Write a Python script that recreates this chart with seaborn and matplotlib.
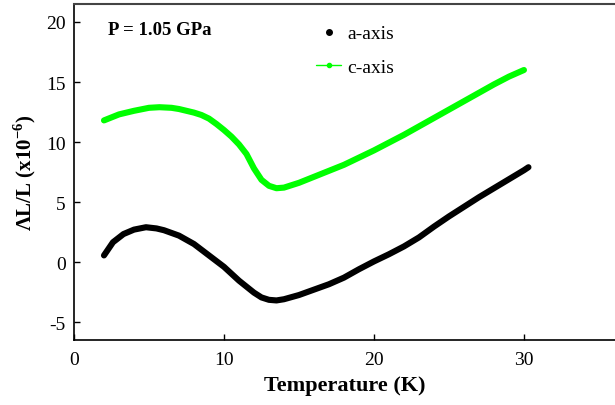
import matplotlib
matplotlib.use("Agg")
import matplotlib.pyplot as plt
import pandas as pd
import seaborn as sns
from matplotlib.lines import Line2D

# a-axis data
temp_a = [2.0, 2.6, 3.3, 4.0, 4.8, 5.5, 6.0, 7.0, 8.0, 9.0, 10.0, 11.0, 12.0,
          12.5, 13.0, 13.5, 14.0, 15.0, 16.0, 17.0, 18.0, 19.0, 20.0, 21.0,
          22.0, 23.0, 24.0, 25.0, 26.0, 27.0, 28.0, 29.0, 30.0, 30.3]
dl_a = [0.55, 1.65, 2.33, 2.7, 2.9, 2.8, 2.65, 2.2, 1.5, 0.55, -0.4, -1.55, -2.55,
        -2.95, -3.15, -3.2, -3.1, -2.75, -2.3, -1.85, -1.3, -0.6, 0.05, 0.65,
        1.3, 2.05, 2.95, 3.8, 4.6, 5.4, 6.15, 6.9, 7.65, 7.9]

# c-axis data
temp_c = [2.0, 3.0, 4.0, 5.0, 5.7, 6.5, 7.0, 8.0, 8.5, 9.0, 9.5, 10.0, 10.5, 11.0,
          11.5, 12.0, 12.5, 13.0, 13.5, 14.0, 15.0, 16.0, 17.0, 18.0, 19.0, 20.0,
          21.0, 22.0, 23.0, 24.0, 25.0, 26.0, 27.0, 28.0, 29.0, 30.0]
dl_c = [11.8, 12.3, 12.6, 12.85, 12.9, 12.85, 12.75, 12.45, 12.25, 11.95, 11.5,
        11.0, 10.45, 9.8, 9.0, 7.8, 6.85, 6.35, 6.15, 6.2, 6.6, 7.1, 7.6, 8.1,
        8.7, 9.3, 9.95, 10.6, 11.3, 12.0, 12.7, 13.4, 14.1, 14.8, 15.45, 16.0]

xticks = [0, 10, 20, 30]
yticks = [-5, 0, 5, 10, 15, 20]

sns.set_theme(style="ticks")
plt.rcParams["font.family"] = ["Liberation Serif", "DejaVu Serif"]
plt.rcParams["axes.unicode_minus"] = False
plt.rcParams["mathtext.fontset"] = "custom"
plt.rcParams["mathtext.rm"] = "Liberation Serif"
plt.rcParams["mathtext.bf"] = "Liberation Serif:bold"
plt.rcParams["text.color"] = "black"
plt.rcParams["axes.labelcolor"] = "black"

fig = plt.figure(figsize=(6.15, 4.06), dpi=100)
ax = fig.add_axes([0.1203, 0.160, 0.8797, 0.8277])

df_a = pd.DataFrame({"T": temp_a, "dL": dl_a})
df_c = pd.DataFrame({"T": temp_c, "dL": dl_c})

sns.lineplot(data=df_a, x="T", y="dL", ax=ax, color="black", linewidth=4.4,
             solid_capstyle="round", solid_joinstyle="round", sort=False)
sns.lineplot(data=df_c, x="T", y="dL", ax=ax, color="#00ff00", linewidth=4.4,
             solid_capstyle="round", solid_joinstyle="round", sort=False)

ax.set_xlim(0, 36.07)
ax.set_ylim(-6.5, 21.5)
ax.set_xticks(xticks)
ax.set_yticks(yticks)
ax.tick_params(direction="in", length=4, width=1, labelsize=14, colors="black")
ax.tick_params(axis="x", pad=8)
ax.tick_params(axis="y", pad=6)
for side in ["left", "bottom"]:
    ax.spines[side].set_linewidth(1.2)
    ax.spines[side].set_color("black")
ax.spines["top"].set_linewidth(1.5)
ax.spines["top"].set_color("#444444")
ax.spines["right"].set_visible(False)

ax.set_xlabel("Temperature (K)", fontsize=16, fontweight="bold", labelpad=5)
ax.set_ylabel(r"ΛL/L (x10$^{\mathbf{-6}}$)", fontsize=15, fontweight="bold",
              labelpad=6)

ax.text(0.062, 0.925, "P = 1.05 GPa", transform=ax.transAxes, fontsize=13.5,
        fontweight="bold", va="center")

handles = [
    Line2D([], [], color="black", marker="o", markersize=4, linestyle="none"),
    Line2D([], [], color="#00ff00", marker="o", markersize=3, linewidth=1),
]
ax.legend(handles, ["a-axis", "c-axis"], loc="upper left",
          bbox_to_anchor=(0.415, 0.99), frameon=False, fontsize=14,
          handlelength=1.3, handletextpad=0.3, labelspacing=0.8)

fig.savefig("out.png", dpi=100)
